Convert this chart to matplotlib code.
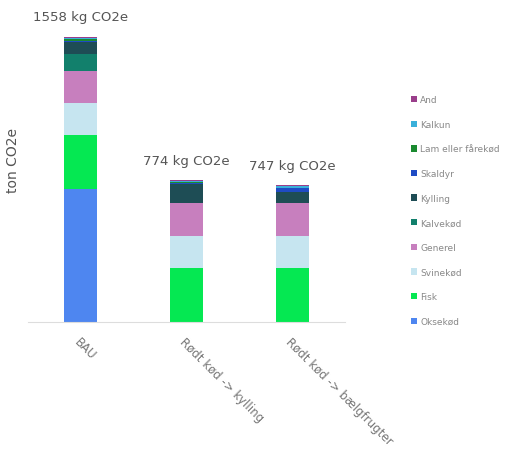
import numpy as np
import matplotlib
matplotlib.use('Agg')
import matplotlib.pyplot as plt

# scenarios and totals
scenarios = ['BAU', 'Rødt kød -> kylling', 'Rødt kød -> bælgfrugter']
totals = [1558, 774, 747]

# stacked categories, bottom to top
categories = ['Oksekød', 'Fisk', 'Svinekød', 'Generel', 'Kalvekød',
              'Kylling', 'Skaldyr', 'Lam eller fårekød', 'Kalkun', 'And']
colors = ['#4e86f0', '#05e852', '#c6e5f0', '#c77fbe', '#12806c',
          '#1e4d55', '#1f4bc4', '#1a8a30', '#3ab0da', '#9a3e8b']

oksekod = [727, 0, 0]
fisk = [295, 295, 295]
svinekod = [173, 173, 173]
generel = [179, 184, 184]
kalvekod = [91, 0, 0]
kylling = [64, 100, 60]
skaldyr = [9, 8, 18]
lam = [7, 4, 5]
kalkun = [8, 6, 9]
ander = [5, 4, 3]
values = [oksekod, fisk, svinekod, generel, kalvekod,
          kylling, skaldyr, lam, kalkun, ander]

fig = plt.figure(figsize=(5.18, 4.52), dpi=100)
ax = fig.add_axes([0.054, 0.2854, 0.612, 0.688])

x = np.arange(len(scenarios))
bottom = np.zeros(len(scenarios))
for name, vals, c in zip(categories, values, colors):
    ax.bar(x, vals, 0.31, bottom=bottom, color=c, label=name)
    bottom += np.array(vals)

for xi, t, top in zip(x, totals, bottom):
    ax.text(xi, top + 110, f'{t} kg CO2e', ha='center', va='center',
            fontsize=9.5, color='#555555')

ax.set_xlim(-0.5, 2.5)
ax.set_ylim(0, 1700)
ax.set_yticks([])
ax.set_xticks(x)
ax.set_xticklabels(scenarios, rotation=-45, ha='left', va='top',
                   rotation_mode='anchor', fontsize=8.5, color='#777777')
ax.tick_params(axis='x', length=0, pad=9)
for s in ['top', 'right', 'left']:
    ax.spines[s].set_visible(False)
ax.spines['bottom'].set_color('#dddddd')
ax.set_ylabel('ton CO2e', fontsize=10, color='#555555')
ax.yaxis.set_label_coords(-0.025, 0.524)

h, l = ax.get_legend_handles_labels()
fig.legend(h[::-1], l[::-1], loc='upper left', bbox_to_anchor=(0.778, 0.805),
           frameon=False, fontsize=6.5, labelcolor='#888888',
           handlelength=0.7, handleheight=0.7, handletextpad=0.3,
           labelspacing=1.73)

fig.savefig('out.png', dpi=100)
